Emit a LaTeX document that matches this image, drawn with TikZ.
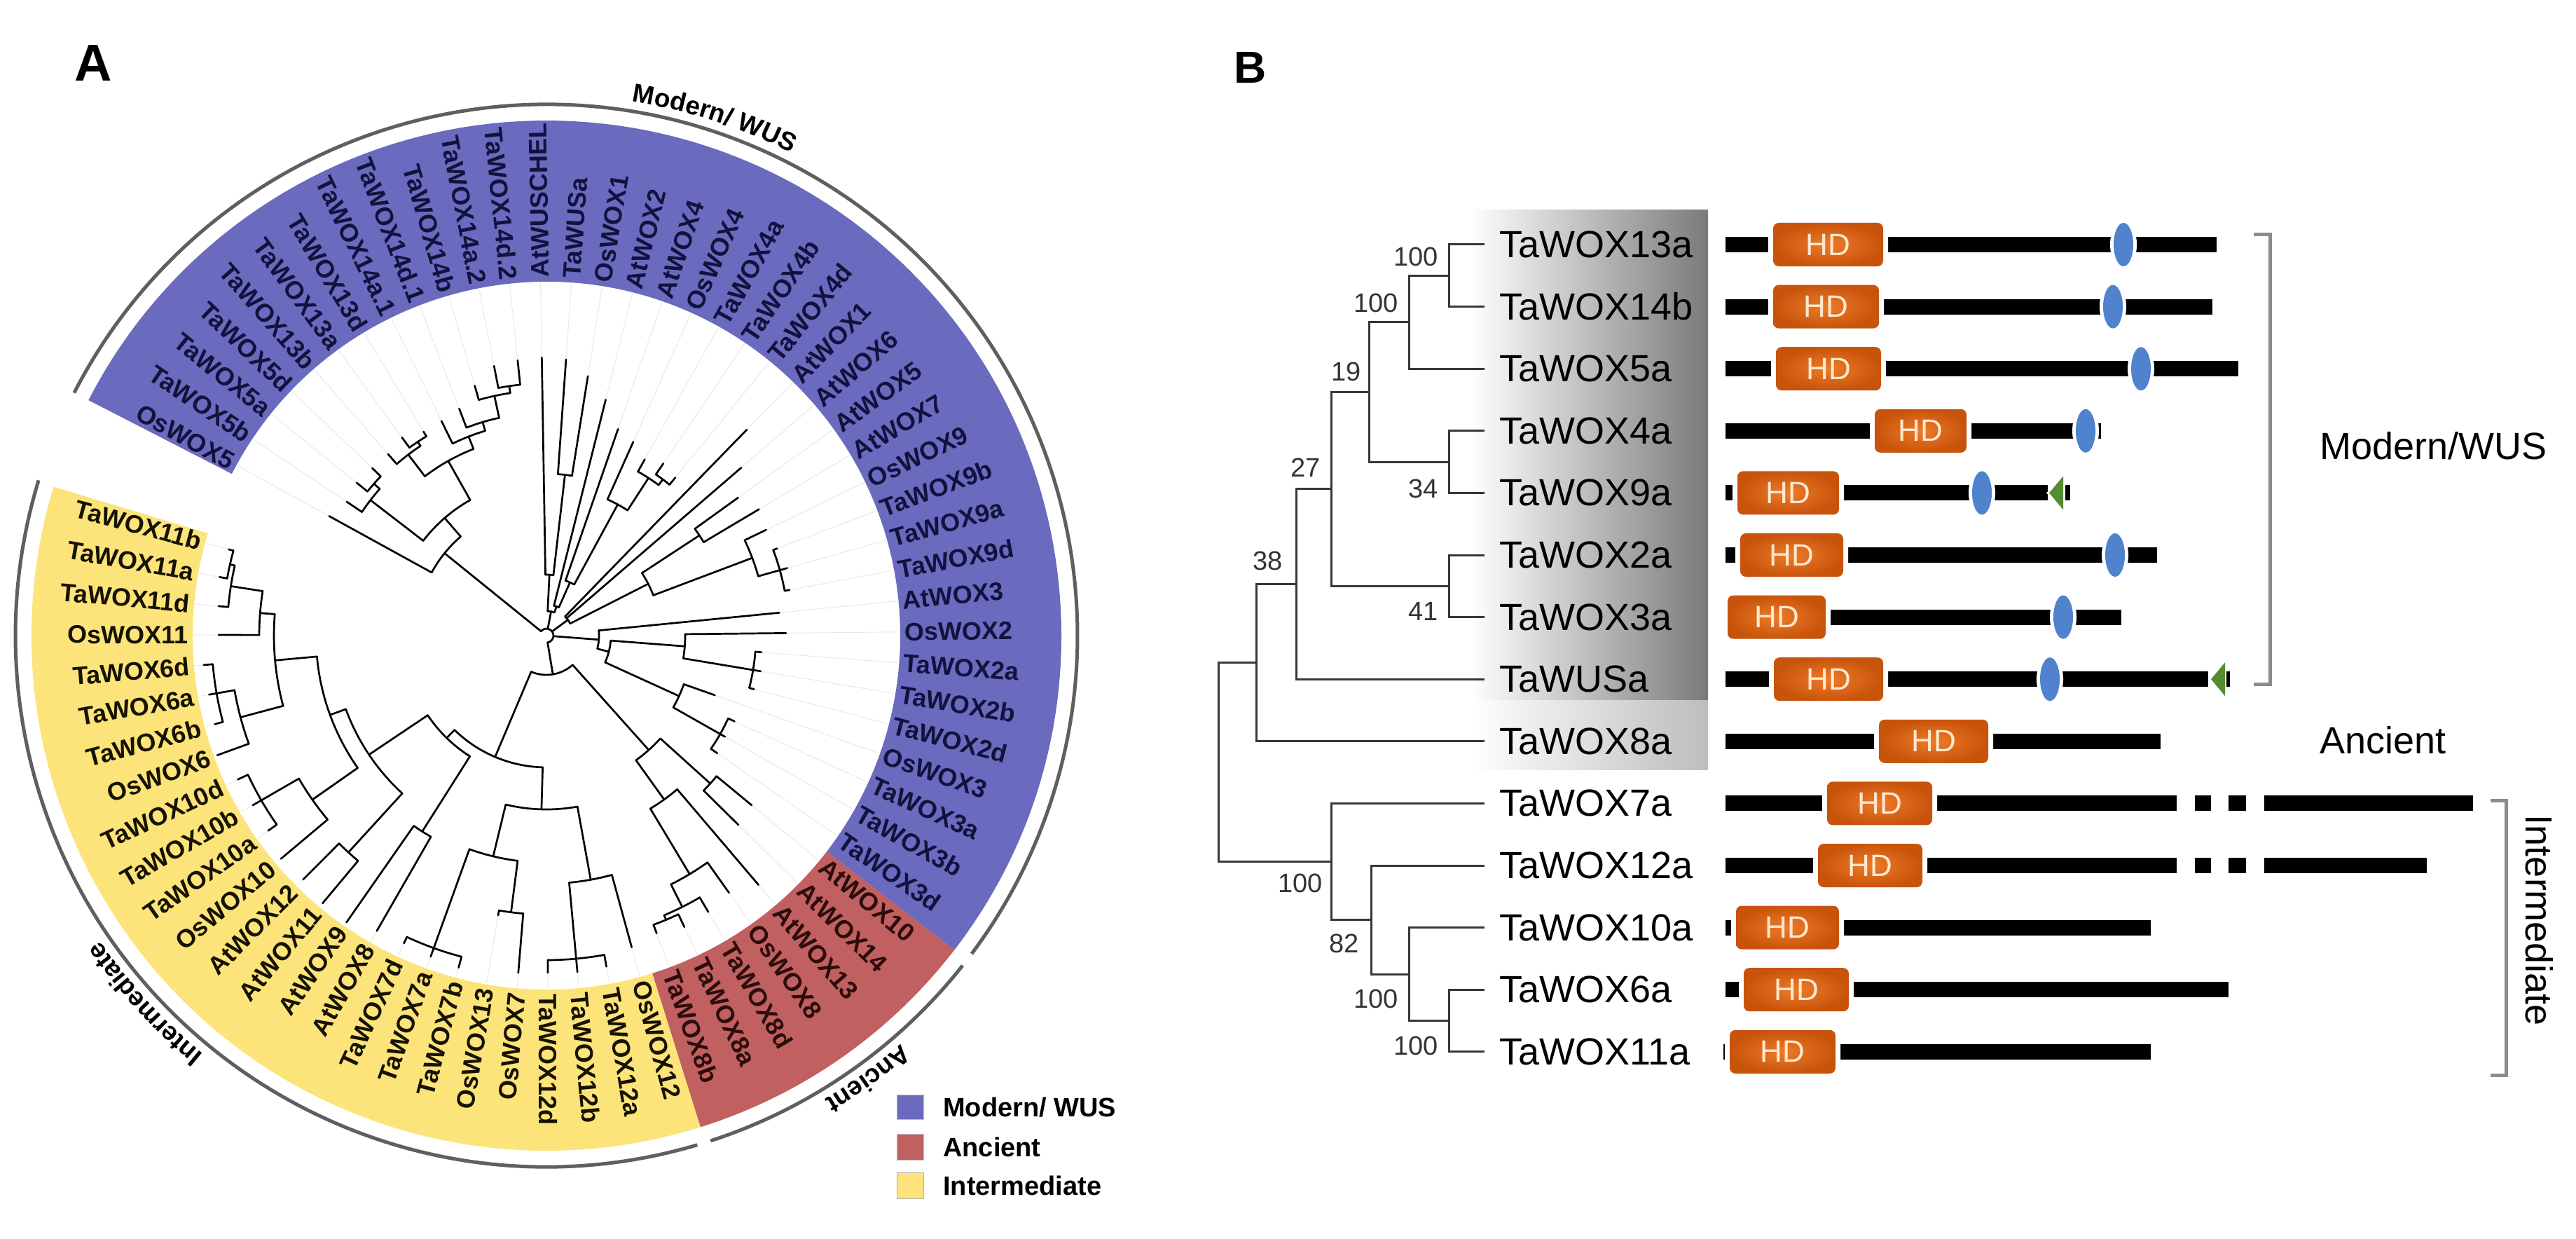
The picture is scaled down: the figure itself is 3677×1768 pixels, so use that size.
\documentclass[tikz,border=0pt]{standalone}
\usepackage{fontspec}
\setmainfont{Liberation Sans}
\usetikzlibrary{decorations.text}
\newcommand\fs[1]{\fontsize{#1}{#1}\selectfont}
\newcommand\arcfont{\fontsize{37}{37}\selectfont\bfseries}
\definecolor{bandblue}{RGB}{106,106,190}
\definecolor{bandred}{RGB}{192,96,96}
\definecolor{bandyellow}{RGB}{252,228,122}
\definecolor{arcgray}{RGB}{95,95,95}
\definecolor{lblblue}{RGB}{18,18,62}
\definecolor{lblred}{RGB}{45,12,12}
\definecolor{lblyellow}{RGB}{22,18,0}
\definecolor{hddark}{RGB}{200,84,12}
\definecolor{hdlight}{RGB}{238,122,40}
\definecolor{hdtxt}{RGB}{255,232,205}
\definecolor{ellblue}{RGB}{80,130,205}
\definecolor{trigreen}{RGB}{84,140,48}
\definecolor{btreec}{RGB}{55,55,55}
\definecolor{brgray}{RGB}{140,140,140}
\tikzset{
  tl/.style={line width=2.7pt, black, line cap=round, line join=round},
  faint/.style={line width=1pt, black!9},
  lbl/.style={font={\fs{36}\bfseries}, inner sep=0pt},
  btree/.style={line width=3pt, btreec},
  blab/.style={font={\fs{54}}, inner sep=0pt, anchor=west},
  bs/.style={font={\fs{38}}, inner sep=0pt, anchor=east, text=black!80},
  bracket/.style={line width=5pt, brgray},
  hdtext/.style={font={\fs{44}}, text=hdtxt, inner sep=0pt},
  legtext/.style={font={\fs{38}\bfseries}, inner sep=0pt, anchor=west}
}
\newcommand\leaflabel[3]{%
  \pgfmathsetmacro\ang{151.2-5.02*#1}%
  \pgfmathsetmacro\flip{(\ang>91)||(\ang<-90)}%
  \ifdim\flip pt>0.5pt
    \node[lbl,text=#3,anchor=east,rotate=\ang+180] (L#1) at (\ang:511) {#2};
  \else
    \node[lbl,text=#3,anchor=west,rotate=\ang] (L#1) at (\ang:511) {#2};
  \fi}
\newcommand\pbar[3]{\fill[black] (#2,{#1-11}) rectangle (#3,{#1+11});}
\newcommand\hd[3]{%
  \fill[white,rounded corners=12pt] ({#2-7},{#1-38}) rectangle ({#3+7},{#1+38});
  \shade[inner color=hdlight, outer color=hddark, rounded corners=8pt] (#2,{#1-31}) rectangle (#3,{#1+31});
  \node[hdtext] at ({(#2+#3)/2},#1) {HD};}
\newcommand\blob[2]{%
  \fill[white] (#1,#2) ellipse[x radius=19, y radius=35];
  \fill[ellblue] (#1,#2) ellipse[x radius=14, y radius=31];}
\newcommand\tri[2]{%
  \fill[white] ({#1-4},#2) -- ({#1+23},{#2-28}) -- ({#1+23},{#2+28}) -- cycle;
  \fill[trigreen] (#1,#2) -- ({#1+20},{#2-24}) -- ({#1+20},{#2+24}) -- cycle;}
\begin{document}
\begin{tikzpicture}[x=1pt,y=-1pt]
\useasboundingbox (0,0) rectangle (3677,1768);
\fill[white] (0,0) rectangle (3677,1768);
\node[font={\fs{74}\bfseries}, inner sep=0pt] (pA) at (133,90) {A};
\node[font={\fs{64}\bfseries}, inner sep=0pt] (pB) at (1785,96) {B};

% ================= Panel A =================
\begin{scope}[shift={(780,907)}, y=1pt]
  \fill[bandblue] (152.8:505) arc[start angle=152.8,end angle=-37.6,radius=505] -- (-37.6:735) arc[start angle=-37.6,end angle=152.8,radius=735] -- cycle;
  \fill[bandred] (-37.6:505) arc[start angle=-37.6,end angle=-72.6,radius=505] -- (-72.6:735) arc[start angle=-72.6,end angle=-37.6,radius=735] -- cycle;
  \fill[bandyellow] (-72.6:505) arc[start angle=-72.6,end angle=-196.8,radius=505] -- (-196.8:735) arc[start angle=-196.8,end angle=-72.6,radius=735] -- cycle;
  % outer arcs
  \draw[line width=5pt, arcgray] (152.8:758) arc[start angle=152.8,end angle=-36.8,radius=758];
  \draw[line width=5pt, arcgray] (-38.4:758) arc[start angle=-38.4,end angle=-72,radius=758];
  \draw[line width=5pt, arcgray] (-73.5:758) arc[start angle=-73.5,end angle=-197,radius=758];
  % arc labels
  \path[decorate, decoration={text along path, text={|\arcfont|Modern/ WUS}, text align=center}] (90:772) arc[start angle=90,end angle=54,radius=772];
  \path[decorate, decoration={text along path, text={|\arcfont|Ancient}, text align=center}] (-36:772) arc[start angle=-36,end angle=-72,radius=772];
  \path[decorate, decoration={text along path, text={|\arcfont|Intermediate}, text align=center}] (-112:772) arc[start angle=-112,end angle=-163,radius=772];
  % leaf branches with faint guide lines
  \foreach \a/\f/\t in {151.2/187/354, 146.18/317/343, 141.16/328/348, 136.14/328/345, 131.12/325/344, 126.1/332/350, 121.08/332/340, 116.06/305/341, 111.04/318/347, 106.02/350/371, 101/360/392, 95.98/360/395, 90.96/87/397, 85.94/231/395, 80.92/231/375, 75.9/44/347, 70.88/83/312, 65.86/213/303, 60.84/268/288, 55.82/278/297, 50.8/278/291, 45.78/38/410, 40.76/38/367, 35.74/261/337, 30.72/261/353, 25.7/314/348, 20.68/346/352, 15.66/346/357, 10.64/346/353, 5.62/75/334, 0.6/198/342, -4.42/299/308, -9.44/299/310, -14.46/299/306, -19.48/208/255, -24.5/285/295, -29.52/285/293, -34.54/285/296, -39.56/315/380, -44.58/315/385, -49.6/288/467, -54.62/397/450, -59.64/433/457, -64.66/440/460, -69.68/440/453, -74.7/354/461, -79.72/463/480, -84.74/463/482, -89.76/463/481, -94.78/398/483, -99.8/398/405, -104.82/474/490, -109.84/474/487, -114.86/474/484, -119.88/331/486, -124.9/331/499, -129.92/419/498, -134.94/419/492, -139.96/408/495, -144.98/470/485, -150/470/484, -155.02/470/486, -160.04/452/500, -165.06/478/490, -170.08/478/489, -175.1/478/491, -180.12/410/468, -185.14/456/470, -190.16/463/474, -195.18/463/470}
  {\draw[faint] (\a:\t) -- (\a:503); \draw[tl] (\a:\f) -- (\a:\t);}
  % internal branches
  \foreach \a/\f/\t in {141.05/10/187, 130.89/187/222, 142.415/222/317, 119.36/222/286, 138.65/317/328, 127.36/286/325, 111.36/286/305, 123.59/325/332, 106.65/305/318, 102.255/318/350, 98.49/350/360, 79.12/10/35, 87.195/35/87, 71.04/35/44, 83.43/87/231, 66.175/44/83, 61.47/83/213, 57.075/213/268, 53.31/268/278, 36.37/10/38, 26.955/38/163, 33.23/163/261, 20.68/163/314, 15.66/314/346, -4.42/10/75, -14.46/75/92, -4.42/92/198, -24.5/92/208, -9.44/198/299, -29.52/208/285, -80.57/10/56, -48.19/56/219, -42.07/219/315, -54.305/219/288, -59.01/288/397, -63.405/397/433, -67.17/433/440, -112.955/56/188, -91.64/188/248, -134.27/188/204, -79.72/248/354, -103.565/248/324, -84.74/354/463, -97.29/324/398, -109.84/324/474, -122.39/204/331, -146.155/204/305, -132.43/305/419, -159.88/305/329, -144.98/329/408, -174.785/329/389, -150/408/470, -165.06/389/452, -184.51/389/410, -170.08/452/478, -188.905/410/456, -192.67/456/463}
  {\draw[tl] (\a:\f) -- (\a:\t);}
  % node arcs
  \foreach \r/\p/\q in {10/141.05/-80.57, 187/151.2/130.89, 222/142.415/119.36, 317/146.18/138.65, 328/141.16/136.14, 286/127.36/111.36, 325/131.12/123.59, 332/126.1/121.08, 305/116.06/106.65, 318/111.04/102.255, 350/106.02/98.49, 360/101/95.98, 35/87.195/71.04, 87/90.96/83.43, 231/85.94/80.92, 44/75.9/66.175, 83/70.88/61.47, 213/65.86/57.075, 268/60.84/53.31, 278/55.82/50.8, 38/45.78/26.955, 261/35.74/30.72, 163/33.23/20.68, 314/25.7/15.66, 346/20.68/10.64, 75/5.62/-14.46, 92/-4.42/-24.5, 198/0.6/-9.44, 299/-4.42/-14.46, 208/-19.48/-29.52, 285/-24.5/-34.54, 56/-48.19/-112.955, 219/-42.07/-54.305, 315/-39.56/-44.58, 288/-49.6/-59.01, 397/-54.62/-63.405, 433/-59.64/-67.17, 440/-64.66/-69.68, 188/-91.64/-134.27, 248/-79.72/-103.565, 354/-74.7/-84.74, 463/-79.72/-89.76, 324/-97.29/-109.84, 398/-94.78/-99.8, 474/-104.82/-114.86, 204/-122.39/-146.155, 331/-119.88/-124.9, 305/-132.43/-159.88, 419/-129.92/-134.94, 329/-144.98/-174.785, 408/-139.96/-150, 470/-144.98/-155.02, 389/-165.06/-184.51, 452/-160.04/-170.08, 478/-165.06/-175.1, 410/-180.12/-188.905, 456/-185.14/-192.67, 463/-190.16/-195.18}
  {\draw[tl] (\p:\r) arc[start angle=\p, end angle=\q, radius=\r];}
  % leaf labels
  \foreach \i/\n in {0/OsWOX5,1/TaWOX5b,2/TaWOX5a,3/TaWOX5d,4/TaWOX13b,5/TaWOX13a,6/TaWOX13d,7/TaWOX14a.1,8/TaWOX14d.1,9/TaWOX14b,10/TaWOX14a.2,11/TaWOX14d.2,12/AtWUSCHEL,13/TaWUSa,14/OsWOX1,15/AtWOX2,16/AtWOX4,17/OsWOX4,18/TaWOX4a,19/TaWOX4b,20/TaWOX4d,21/AtWOX1,22/AtWOX6,23/AtWOX5,24/AtWOX7,25/OsWOX9,26/TaWOX9b,27/TaWOX9a,28/TaWOX9d,29/AtWOX3,30/OsWOX2,31/TaWOX2a,32/TaWOX2b,33/TaWOX2d,34/OsWOX3,35/TaWOX3a,36/TaWOX3b,37/TaWOX3d}
    {\leaflabel{\i}{\n}{lblblue}}
  \foreach \i/\n in {38/AtWOX10,39/AtWOX14,40/AtWOX13,41/OsWOX8,42/TaWOX8d,43/TaWOX8a,44/TaWOX8b}
    {\leaflabel{\i}{\n}{lblred}}
  \foreach \i/\n in {45/OsWOX12,46/TaWOX12a,47/TaWOX12b,48/TaWOX12d,49/OsWOX7,50/OsWOX13,51/TaWOX7b,52/TaWOX7a,53/TaWOX7d,54/AtWOX8,55/AtWOX9,56/AtWOX11,57/AtWOX12,58/OsWOX10,59/TaWOX10a,60/TaWOX10b,61/TaWOX10d,62/OsWOX6,63/TaWOX6b,64/TaWOX6a,65/TaWOX6d,66/OsWOX11,67/TaWOX11d,68/TaWOX11a,69/TaWOX11b}
    {\leaflabel{\i}{\n}{lblyellow}}
\end{scope}

% legend
\fill[bandblue,draw=black!25,line width=1pt] (1280,1562) rectangle (1318,1597);
\fill[bandred,draw=black!25,line width=1pt] (1280,1618) rectangle (1318,1655);
\fill[bandyellow,draw=black!30,line width=1pt] (1280,1673) rectangle (1318,1710);
\node[legtext] (lg1) at (1346,1580) {Modern/ WUS};
\node[legtext] (lg2) at (1346,1637) {Ancient};
\node[legtext] (lg3) at (1346,1692) {Intermediate};

% ================= Panel B =================
\shade[left color=white, right color=black!52] (2098,300) rectangle (2438,999);
\shade[left color=white, right color=black!26] (2098,999) rectangle (2438,1098);

% leaf tips and labels
\foreach \k/\yy/\n in {0/349/TaWOX13a,1/437.6/TaWOX14b,2/526.2/TaWOX5a,3/614.8/TaWOX4a,4/703.4/TaWOX9a,5/792/TaWOX2a,6/880.6/TaWOX3a,7/969.2/TaWUSa,8/1057.8/TaWOX8a,9/1146.4/TaWOX7a,10/1235/TaWOX12a,11/1323.6/TaWOX10a,12/1412.2/TaWOX6a,13/1500.8/TaWOX11a}
{\coordinate (e\k) at (2119,\yy); \node[blab] (b\k) at (2140,\yy) {\n};}

\coordinate (tR) at (1739,1087.55);
\coordinate (tA) at (1793,945.65);
\coordinate (t38) at (1850,833.5);
\coordinate (tX) at (1900,697.85);
\coordinate (t19) at (1954,559.4);
\coordinate (tHb) at (2011,459.75);
\coordinate (tHa) at (2068,393.3);
\coordinate (t34) at (2068,659.1);
\coordinate (t41) at (2068,836.3);
\coordinate (tI) at (1900,1229.45);
\coordinate (t82) at (1957,1312.5);
\coordinate (tHd) at (2011,1390.05);
\coordinate (tHe) at (2068,1456.5);

\draw[btree] (tR) |- (tA); \draw[btree] (tR) |- (tI);
\draw[btree] (tA) |- (t38); \draw[btree] (tA) |- (e8);
\draw[btree] (t38) |- (tX); \draw[btree] (t38) |- (e7);
\draw[btree] (tX) |- (t19); \draw[btree] (tX) |- (t41);
\draw[btree] (t19) |- (tHb); \draw[btree] (t19) |- (t34);
\draw[btree] (tHb) |- (tHa); \draw[btree] (tHb) |- (e2);
\draw[btree] (tHa) |- (e0); \draw[btree] (tHa) |- (e1);
\draw[btree] (t34) |- (e3); \draw[btree] (t34) |- (e4);
\draw[btree] (t41) |- (e5); \draw[btree] (t41) |- (e6);
\draw[btree] (tI) |- (e9); \draw[btree] (tI) |- (t82);
\draw[btree] (t82) |- (e10); \draw[btree] (t82) |- (tHd);
\draw[btree] (tHd) |- (e11); \draw[btree] (tHd) |- (tHe);
\draw[btree] (tHe) |- (e12); \draw[btree] (tHe) |- (e13);

% bootstrap values
\node[bs] (s1) at (2053,366) {100};
\node[bs] (s2) at (1996,432) {100};
\node[bs] (s3) at (1943,530) {19};
\node[bs] (s4) at (2053,697) {34};
\node[bs] (s5) at (2053,872) {41};
\node[bs] (s6) at (1885,667) {27};
\node[bs] (s7) at (1831,800) {38};
\node[bs] (s8) at (1888,1260) {100};
\node[bs] (s9) at (1940,1346) {82};
\node[bs] (s10) at (1996,1425) {100};
\node[bs] (s11) at (2053,1492) {100};

% domain diagrams
\pbar{349}{2463}{3164}   \hd{349}{2531}{2688}   \blob{3031}{349}
\pbar{437.6}{2463}{3158} \hd{437.6}{2531}{2682} \blob{3016}{437.6}
\pbar{526.2}{2463}{3195} \hd{526.2}{2535}{2685} \blob{3056}{526.2}
\pbar{614.8}{2463}{2999} \hd{614.8}{2676}{2807} \blob{2977}{614.8}
\pbar{703.4}{2463}{2923} \hd{703.4}{2480}{2625} \blob{2829}{703.4} \tri{2925}{703.4} \pbar{703.4}{2948}{2955}
\pbar{792}{2463}{3079}   \hd{792}{2484}{2631}   \blob{3019}{792}
\pbar{880.6}{2466}{3028} \hd{880.6}{2466}{2606} \blob{2945}{880.6}
\pbar{969.2}{2463}{3152} \hd{969.2}{2532}{2688} \blob{2926}{969.2} \tri{3156}{969.2} \pbar{969.2}{3178}{3183}
\pbar{1057.8}{2463}{3084} \hd{1057.8}{2682}{2838}
\pbar{1146.4}{2463}{3107} \pbar{1146.4}{3133}{3156} \pbar{1146.4}{3181}{3206} \pbar{1146.4}{3232}{3530} \hd{1146.4}{2608}{2758}
\pbar{1235}{2463}{3107} \pbar{1235}{3133}{3156} \pbar{1235}{3181}{3206} \pbar{1235}{3232}{3464} \hd{1235}{2595}{2744}
\pbar{1323.6}{2463}{3070} \hd{1323.6}{2478}{2625}
\pbar{1412.2}{2463}{3181} \hd{1412.2}{2489}{2639}
\pbar{1500.8}{2460}{3070} \hd{1500.8}{2469}{2620}

% brackets and group names
\draw[bracket] (3217,335) -- (3240,335) -- (3240,976) -- (3217,976);
\draw[bracket] (3555,1142) -- (3577,1142) -- (3577,1534) -- (3555,1534);
\node[blab] (gm) at (3311,636) {Modern/WUS};
\node[blab] (ga) at (3311,1056) {Ancient};
\node[font={\fs{54}}, inner sep=0pt, rotate=-90] (gi) at (3625,1313) {Intermediate};
\end{tikzpicture}
\end{document}
